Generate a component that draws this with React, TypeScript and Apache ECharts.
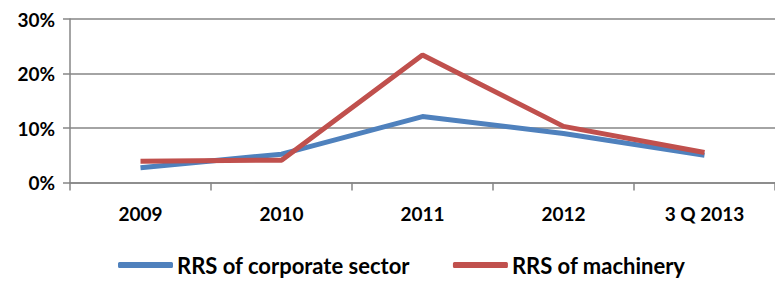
import React, { useEffect, useRef } from "react";
import * as echarts from "echarts";

const categories = ["2009", "2010", "2011", "2012", "3 Q 2013"];
const corporate = [2.7, 5.2, 12.1, 9.0, 5.0];
const machinery = [3.9, 4.1, 23.4, 10.3, 5.5];
const seriesNames = ["RRS of corporate sector", "RRS of machinery"];

export default function App() {
  const ref = useRef<HTMLDivElement>(null);
  useEffect(() => {
    const chart = echarts.init(ref.current!, null, { renderer: "svg" });
    const font = "Lato, 'Open Sans', sans-serif";
    chart.setOption({
      animation: false,
      grid: { left: 70, top: 19, width: 708, height: 163.5, containLabel: false },
      legend: {
        top: 254,
        left: 118,
        padding: 0,
        itemWidth: 55,
        itemHeight: 6,
        itemGap: 43,
        icon: "roundRect",
        textStyle: { fontFamily: font, fontWeight: "bold", fontSize: 22, color: "#000", padding: [0, 0, 0, -1] },
        data: seriesNames,
      },
      xAxis: {
        type: "category",
        data: categories,
        boundaryGap: true,
        axisLine: { lineStyle: { color: "#868686", width: 1.5 } },
        axisTick: { show: true, length: 8, lineStyle: { color: "#868686", width: 1.5 } },
        axisLabel: { fontFamily: font, fontWeight: "bold", fontSize: 19, color: "#000", margin: 21 },
      },
      yAxis: {
        type: "value",
        min: 0,
        max: 30,
        interval: 10,
        axisLine: { show: true, lineStyle: { color: "#868686", width: 1.5 } },
        axisTick: { show: true, length: 7, lineStyle: { color: "#868686", width: 1.5 } },
        splitLine: { lineStyle: { color: "#868686", width: 1.5 } },
        axisLabel: {
          fontFamily: font,
          fontWeight: "bold",
          fontSize: 19,
          color: "#000",
          margin: 15,
          formatter: "{value}%",
        },
      },
      series: [
        {
          name: seriesNames[0],
          type: "line",
          data: corporate,
          symbol: "none",
          color: "#4F81BD",
          lineStyle: { width: 5, color: "#4F81BD" },
        },
        {
          name: seriesNames[1],
          type: "line",
          data: machinery,
          symbol: "none",
          color: "#C0504D",
          lineStyle: { width: 5, color: "#C0504D" },
        },
      ],
    });
    return () => chart.dispose();
  }, []);
  return <div ref={ref} style={{ width: 775, height: 281, position: "absolute", left: 0, top: 0 }} />;
}
